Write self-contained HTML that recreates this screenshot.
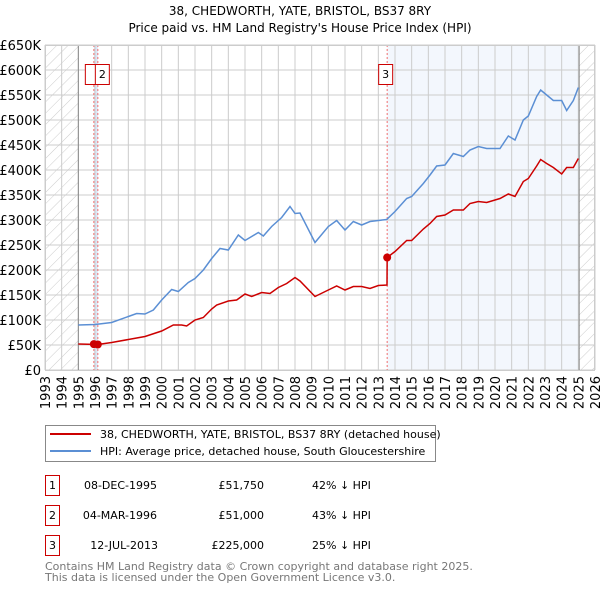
<!DOCTYPE html>
<html><head><meta charset="utf-8"><style>
body{margin:0;background:#fff;font-family:"DejaVu Sans","Liberation Sans",sans-serif;}
svg text{font-family:"DejaVu Sans","Liberation Sans",sans-serif;}
</style></head><body>
<svg id="chart" width="600" height="590" viewBox="0 0 600 590" xmlns="http://www.w3.org/2000/svg">
<defs><pattern id="hatch" width="8" height="8" patternUnits="userSpaceOnUse" patternTransform="rotate(45)"><line x1="0" y1="0" x2="0" y2="8" stroke="#ccc" stroke-width="1"/></pattern></defs>
<text x="300" y="15" text-anchor="middle" font-size="12">38, CHEDWORTH, YATE, BRISTOL, BS37 8RY</text>
<text x="300" y="32" text-anchor="middle" font-size="12">Price paid vs. HM Land Registry's House Price Index (HPI)</text>
<g id="plot"></g>
<g>
<rect x="45.5" y="425.5" width="390" height="36" fill="#fff" stroke="#888"/>
<line x1="50" y1="434" x2="91" y2="434" stroke="#cc0000" stroke-width="2"/>
<text x="100" y="438" font-size="11">38, CHEDWORTH, YATE, BRISTOL, BS37 8RY (detached house)</text>
<line x1="50" y1="451" x2="91" y2="451" stroke="#5b8fd4" stroke-width="2"/>
<text x="100" y="455" font-size="11">HPI: Average price, detached house, South Gloucestershire</text>
</g>
<g font-size="11">
<rect x="45.5" y="475.5" width="14" height="20" fill="#fff" stroke="#cc0000"/><text x="52.5" y="489" text-anchor="middle">1</text>
<text x="157" y="489" text-anchor="end">08-DEC-1995</text><text x="264" y="489" text-anchor="end">£51,750</text><text x="312" y="489">42% ↓ HPI</text>
<rect x="45.5" y="505.5" width="14" height="20" fill="#fff" stroke="#cc0000"/><text x="52.5" y="519" text-anchor="middle">2</text>
<text x="157" y="519" text-anchor="end">04-MAR-1996</text><text x="264" y="519" text-anchor="end">£51,000</text><text x="312" y="519">43% ↓ HPI</text>
<rect x="45.5" y="535.5" width="14" height="20" fill="#fff" stroke="#cc0000"/><text x="52.5" y="549" text-anchor="middle">3</text>
<text x="158" y="549" text-anchor="end">12-JUL-2013</text><text x="264" y="549" text-anchor="end">£225,000</text><text x="312" y="549">25% ↓ HPI</text>
</g>
<text x="45" y="570" font-size="11" fill="#777">Contains HM Land Registry data © Crown copyright and database right 2025.</text>
<text x="45" y="581" font-size="11" fill="#777">This data is licensed under the Open Government Licence v3.0.</text>
</svg>
<script>
const yTicks=[0,50,100,150,200,250,300,350,400,450,500,550,600,650];
const yTickLabels=["£0","£50K","£100K","£150K","£200K","£250K","£300K","£350K","£400K","£450K","£500K","£550K","£600K","£650K"];
const years=[1993,1994,1995,1996,1997,1998,1999,2000,2001,2002,2003,2004,2005,2006,2007,2008,2009,2010,2011,2012,2013,2014,2015,2016,2017,2018,2019,2020,2021,2022,2023,2024,2025,2026];
const hpiT=[1995,1996,1997,1998,1998.5,1999,1999.5,2000,2000.6,2001,2001.6,2002,2002.5,2003,2003.5,2004,2004.6,2005,2005.8,2006.1,2006.6,2007.2,2007.7,2008,2008.3,2009.2,2010,2010.5,2011,2011.5,2012,2012.5,2013,2013.5,2014,2014.7,2015,2015.7,2016.1,2016.5,2017,2017.5,2018.1,2018.5,2019,2019.5,2020.3,2020.8,2021.2,2021.7,2022,2022.5,2022.74,2023.1,2023.5,2024,2024.3,2024.7,2025];
const hpiV=[90,91,95,107,113,112,120,140,161,157,175,183,200,223,243,240,270,259,275,268,287,305,327,313,314,255,287,299,280,297,290,297,299,301,317,343,347,373,390,408,410,433,427,440,447,443,443,468,460,500,508,547,560,550,539,539,519,539,565];
const ppT=[1995,1996.17,1997,1998,1999,2000,2000.7,2001.2,2001.5,2002,2002.5,2003,2003.3,2004,2004.5,2005,2005.4,2006,2006.5,2007,2007.5,2008,2008.3,2009.2,2010,2010.5,2011,2011.5,2012,2012.5,2013,2013.52,2013.53,2014,2014.7,2015,2015.7,2016.1,2016.5,2017,2017.5,2018.1,2018.5,2019,2019.5,2020.3,2020.8,2021.2,2021.7,2022,2022.5,2022.74,2023.1,2023.5,2024,2024.3,2024.7,2025];
const ppV=[52,51,55,61,67,78,90,90,88,100,105,122,130,138,140,152,147,155,153,165,173,185,178,147,160,168,160,167,167,163,169,170,225,237,259,259,282,293,307,310,320,320,333,337,335,343,352,347,377,383,408,421,413,405,392,405,405,423];
const saleT=[1995.93,1996.17,2013.53];
const saleV=[51.75,51,225];
const saleLabels=["1","2","3"];
const X0=45,X1=595,Y0=370,Y1=45;
const x=t=>X0+(t-1993)/(2026-1993)*(X1-X0);
const y=v=>Y0-v/650*(Y0-Y1);
const NS="http://www.w3.org/2000/svg";
const g=document.getElementById('plot');
function mk(tag,at,parent){const e=document.createElementNS(NS,tag);for(const k in at)e.setAttribute(k,at[k]);(parent||g).appendChild(e);return e;}
let e;
e=mk('rect',{x:X0,y:Y1,width:x(1995)-X0,height:Y0-Y1,fill:'url(#hatch)'});


e=mk('rect',{x:x(2025.05),y:Y1,width:X1-x(2025.05),height:Y0-Y1,fill:'url(#hatch)'});


e=mk('rect',{x:x(saleT[2]),y:Y1,width:x(2025.05)-x(saleT[2]),height:Y0-Y1,fill:'#eef3fc',opacity:0.7});


e=mk('rect',{x:x(saleT[0]),y:Y1,width:x(saleT[1])-x(saleT[0]),height:Y0-Y1,fill:'#dde6f5'});


years.forEach(t=>{
  e=mk('line',{x1:x(t),x2:x(t),y1:Y1,y2:Y0,stroke:'#ccc','stroke-width':1});
  
  
  e=mk('text',{x:0,y:0,'font-size':13,'text-anchor':'end',transform:`translate(${x(t)+5},${Y0+6}) rotate(-90)`});
  e.textContent=t;
  
  
});
yTicks.forEach((v,i)=>{
  e=mk('line',{x1:X0,x2:X1,y1:y(v),y2:y(v),stroke:'#ccc','stroke-width':1});
  
  
  e=mk('text',{x:X0-4,y:y(v)+5,'font-size':13,'text-anchor':'end'});
  e.textContent=yTickLabels[i];
  
  
});
e=mk('line',{x1:x(1995),x2:x(1995),y1:Y1,y2:Y0,stroke:'#888'});


e=mk('line',{x1:x(2025.05),x2:x(2025.05),y1:Y1,y2:Y0,stroke:'#888'});


saleT.forEach((t,i)=>{
  e=mk('line',{x1:x(t),x2:x(t),y1:Y1,y2:Y0,stroke:'#f07070','stroke-dasharray':'2,2'});
  
  
});
e=mk('polyline',{points:hpiT.map((t,i)=>x(t)+','+y(hpiV[i])).join(' '),fill:'none',stroke:'#5b8fd4','stroke-width':1.5});


e=mk('polyline',{points:ppT.map((t,i)=>x(t)+','+y(ppV[i])).join(' '),fill:'none',stroke:'#cc0000','stroke-width':1.5});


saleT.forEach((t,i)=>{
  e=mk('circle',{cx:x(t),cy:y(saleV[i]),r:4,fill:'#cc0000'});
  
  
});
const lblX=[x(saleT[0])-7,x(saleT[1])-1,x(saleT[2])-7];
saleLabels.forEach((s,i)=>{
  e=mk('rect',{x:lblX[i]-1.5,y:64.5,width:14,height:20,fill:'#fff',stroke:'#cc0000'});
  
  
  if(i>0){
    e=mk('text',{x:lblX[i]+5.5,y:78,'font-size':11,'text-anchor':'middle'});
    e.textContent=s;
    
    
  }
});
e=mk('rect',{x:X0+0.5,y:Y1+0.5,width:X1-X0-1,height:Y0-Y1,fill:'none',stroke:'#ccc'});


</script>
</body></html>
